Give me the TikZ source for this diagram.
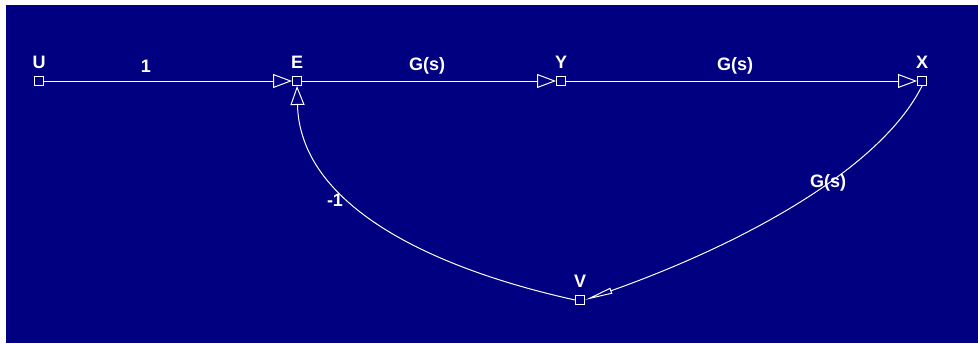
\documentclass[tikz,border=0pt]{standalone}
\usepackage{fontspec}
\setmainfont{Liberation Sans}
\usetikzlibrary{arrows.meta}
\definecolor{navy}{RGB}{0,0,128}
\begin{document}
\begin{tikzpicture}[x=1pt,y=-1pt,
  vbox/.style={draw=white,fill=navy,line width=0.9pt,minimum size=9pt,inner sep=0pt},
  vlab/.style={text=white,font=\bfseries\fontsize{18}{18}\selectfont,inner sep=0pt},
  elab/.style={text=white,font=\bfseries\fontsize{18}{18}\selectfont,inner sep=1pt},
  edge/.style={draw=white,line width=1pt,-{Triangle[open,length=19pt,width=14pt,line width=1pt]}},
  thinedge/.style={draw=white,line width=1pt,-{Triangle[open,length=28pt,width=6pt,line width=1pt]}}]
\useasboundingbox (0,0) rectangle (978,343);
\fill[white] (0,0) rectangle (978,343);
\fill[navy] (6,5) rectangle (978,343);
\node[vbox] (U) at (39,81) {};
\node[vbox] (E) at (297,81) {};
\node[vbox] (Y) at (561,81) {};
\node[vbox] (X) at (922,81) {};
\node[vbox] (V) at (580,300) {};
\node[vlab] (lU) at (39,62) {U};
\node[vlab] (lE) at (297,62) {E};
\node[vlab] (lY) at (561,62) {Y};
\node[vlab] (lX) at (922,62) {X};
\node[vlab] (lV) at (580,281) {V};
\draw[edge] (U) -- (E);
\draw[edge] (E) -- (Y);
\draw[edge] (Y) -- (X);
\draw[thinedge] (X.south) .. controls (880,170) and (740,245) .. (V.east);
\draw[edge] (V.west) .. controls (430,268) and (300,205) .. (E.south);
\node[elab] (l1) at (146,66) {1};
\node[elab] (l2) at (427,66) {G(s)};
\node[elab] (l3) at (735,66) {G(s)};
\node[elab] (l4) at (828,183) {G(s)};
\node[elab] (l5) at (335,200) {-1};
\end{tikzpicture}
\end{document}
